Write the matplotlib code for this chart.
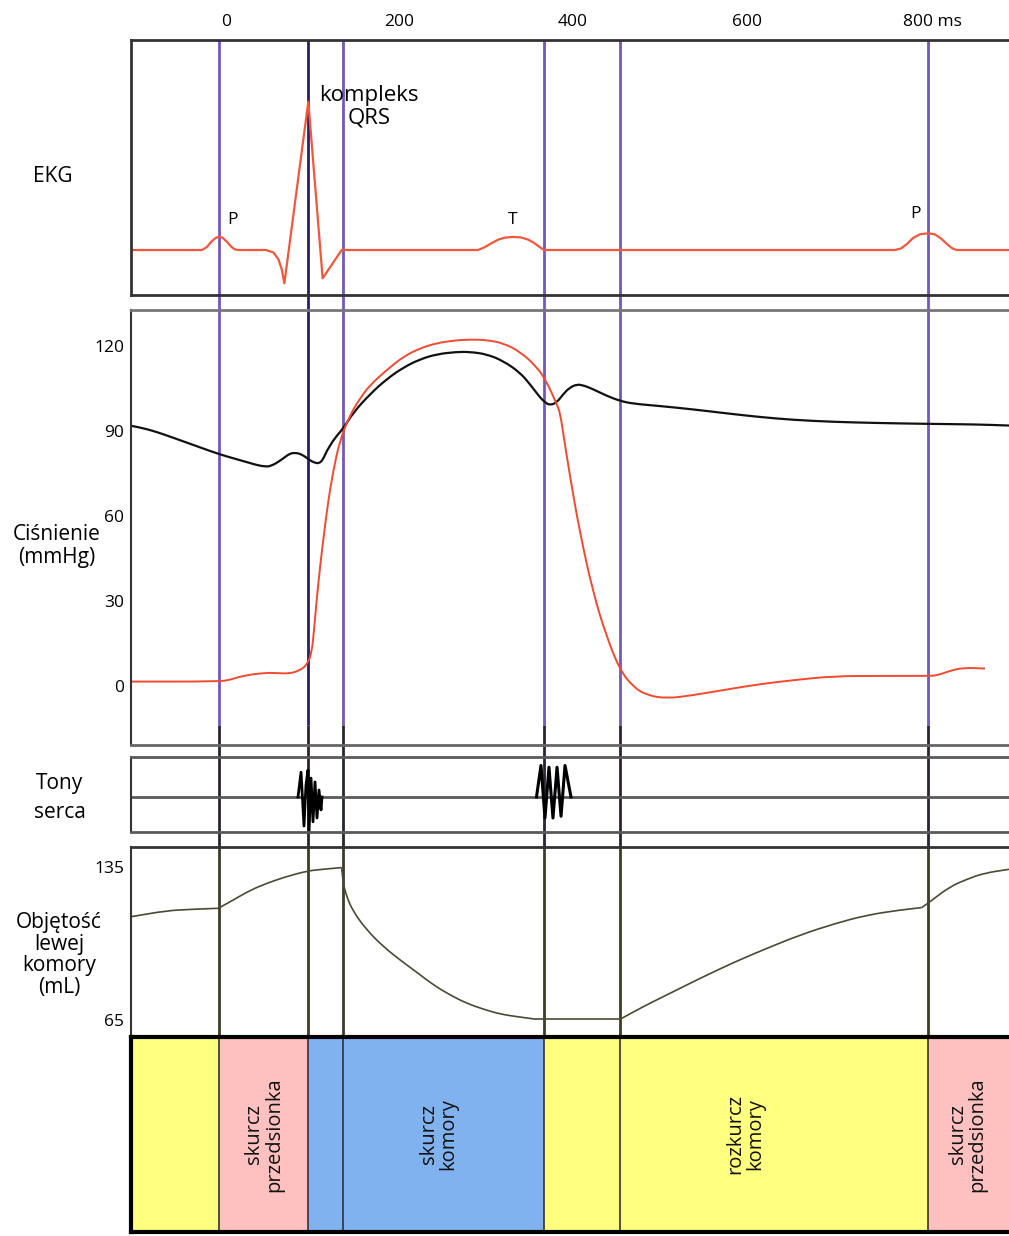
import matplotlib
matplotlib.use("Agg")
import matplotlib.pyplot as plt
from matplotlib.path import Path
from matplotlib.patches import PathPatch

plt.rcParams['font.family'] = ['Open Sans', 'DejaVu Sans']

# os czasu (ms)
time_ticks = [0, 200, 400, 600, 800]
time_labels = ['0', '200', '400', '600', '800 ms']
# pionowe linie zdarzen (ms)
event_ms = [-8, 95, 134.5, 366.5, 454, 809]

# EKG (mV)
ekg_t = [-110, -27.7, -22, -17, -12, -8, -4, 1, 6, 10, 13.8, 46, 54.5, 60.3, 64.2, 67.3,
         94.9, 111.4, 133.3, 290.5, 298, 306, 314, 322, 331, 340, 348, 355, 361, 366.6,
         771, 778, 785, 792, 800, 809, 817, 824, 831, 837, 842, 903]
ekg_mv = [0, 0, 0.02, 0.055, 0.08, 0.089, 0.082, 0.055, 0.022, 0.005, 0, 0, -0.016, -0.06, -0.127, -0.222,
          0.989, -0.189, 0, 0, 0.018, 0.045, 0.07, 0.083, 0.087, 0.084, 0.07, 0.048, 0.022, 0,
          0, 0.01, 0.04, 0.08, 0.105, 0.111, 0.105, 0.078, 0.04, 0.012, 0, 0]
ekg_notes = ['P', 'kompleks\nQRS', 'T', 'P']
ekg_note_t = [7, 165, 330, 795]
ekg_note_mv = [0.2, 0.957, 0.2, 0.24]

# cisnienie w aorcie (mmHg)
aorta_t = [-109, -90, -70, -50, -30, -8, 10, 25, 35, 45, 52, 62, 68, 73.8, 79.5, 87.2, 96.8, 102,
           107.5, 112, 116, 125.6, 134.5, 146.8, 166, 185.2, 204.4, 223.6, 242.9, 265.9, 281.3,
           300.5, 319.7, 338.9, 350.4, 362, 368, 373.5, 381.2, 388.8, 395.4, 404.3, 413, 423.4,
           438.8, 454.2, 469.5, 500.3, 538.7, 577.1, 615.5, 653.9, 700, 750, 807.7, 865.3, 902.6]
aorta_p = [91.8, 90.6, 88.6, 86.4, 84.2, 81.8, 80.2, 78.9, 78.0, 77.4, 77.6, 79.4, 80.8, 82.0, 82.3,
           81.8, 79.6, 78.8, 78.5, 80.0, 82.9, 87.6, 90.6, 96.5, 103, 108.3, 112.4, 115.3, 117.1,
           117.9, 117.9, 117.1, 114.7, 110.6, 106.5, 101.8, 100.0, 99.1, 100, 103, 105.1, 106.5,
           106.0, 104.7, 102.4, 100.6, 99.6, 98.8, 97.6, 96.2, 94.9, 93.9, 93.2, 92.8, 92.5, 92.3, 91.9]

# cisnienie w lewej komorze (mmHg)
lv_t = [-110, -8, 4.6, 20, 45, 58.4, 73.8, 85.3, 93, 98.8, 101.8, 104.5, 108.4, 113, 118, 123.8,
        131.4, 142.9, 154.5, 166, 185.2, 204.4, 223.6, 242.9, 262, 281.3, 300.5, 319.7, 338.9,
        358.1, 369.6, 381.2, 385, 388.8, 396.5, 408, 423.4, 438.8, 454.2, 469.5, 485, 508, 538.7,
        577.1, 615.5, 653.9, 700, 750, 807.7, 819.2, 834.5, 849.9, 874.9]
lv_p = [1.5, 1.5, 2.1, 3.6, 4.6, 4.5, 4.3, 5.5, 7.3, 11.4, 20.8, 30.3, 42, 53.8, 65.6, 76.2,
        86.8, 95.6, 101.5, 106.2, 111.5, 116.2, 119.2, 121, 121.9, 122.3, 122.1, 121, 118,
        112.7, 107.4, 99.5, 96.5, 89, 74, 54, 32.6, 17.3, 5.5, -0.4, -3.3, -4.5, -3.3,
        -1.3, 0.6, 2.0, 3.4, 3.5, 3.5, 3.6, 5.3, 6.4, 6.1]
p_ticks = [120, 90, 60, 30, 0]

# tony serca
s1_t = [83.0, 86.5, 89.9, 92.2, 94.5, 95.7, 98.0, 100.3, 102.6, 104.9, 107.2, 109.5, 110.7]
s1_a = [0, 0.71, -0.83, 0.34, 0.77, -1.0, 0.54, -0.71, 0.43, -0.6, 0.2, -0.37, 0]
s2_t = [357.9, 363.1, 367.7, 372.3, 376.9, 381.6, 386.2, 390.8, 397.7]
s2_a = [0, 0.9, -0.6, 0.85, -0.6, 0.85, -0.55, 0.9, 0]

# objetosc lewej komory (mL)
vol_t = [-108.7, -68.4, -41.5, -8.9, 8.4, 27.7, 46.9, 68, 93, 108.4, 133.3, 135.2, 139.1, 146.8,
         162.2, 181.3, 200.6, 219.8, 239, 258.2, 277.4, 296.6, 315.8, 335, 358, 454.2, 481, 508,
         546.4, 584.8, 623.3, 661.7, 700, 738.5, 776.9, 801.9, 811.5, 834.5, 853.8, 873, 902.6]
vol_ml = [112.2, 114.9, 115.5, 116, 119.8, 124.2, 127.4, 130.3, 133, 133.7, 134.6, 127.4, 121.3, 114.4,
          106.1, 98.5, 92.4, 86.8, 81, 76.4, 72.6, 69.9, 67.7, 66.5, 65.3, 65.3, 71.1, 76.4,
          84, 91.2, 97.7, 103.8, 108.8, 112.9, 115.2, 116.3, 119, 125.9, 129.2, 132, 133.8]
# zalamania krzywej objetosci (ms)
vol_kinks = [-8.9, 133.3, 358, 454.2, 801.9]
vol_ticks = [135, 65]

# fazy cyklu
phase_edges = [-109.5, -8, 95, 134.5, 366.5, 454, 809, 902.6]
phase_colors = ['#ffff80', '#ffc0c0', '#80b2f0', '#80b2f0', '#ffff80', '#ffff80', '#ffc0c0']
phase_labels = ['skurcz\nprzedsionka', 'skurcz\nkomory', 'rozkurcz\nkomory', 'skurcz\nprzedsionka']
phase_label_t = [43.8, 245, 598, 855]

# --- uklad (piksele obrazka) ---
W, H = 1009, 1236
zero_px, px_ms = 226, 0.8675
x_lim = ((131 - zero_px) / px_ms, (W - zero_px) / px_ms)


def box(top, bottom, left=131, right=W):
    return [left / W, 1 - bottom / H, (right - left) / W, (bottom - top) / H]


def smooth_line(ax, xs, ys, **kw):
    # gladka krzywa przez punkty (kwadratowe krzywe Beziera miedzy srodkami odcinkow)
    pts = list(zip(xs, ys))
    if len(pts) < 3:
        ax.plot(xs, ys, color=kw.get('edgecolor'), lw=kw.get('lw'))
        return
    mids = [((a[0] + b[0]) / 2, (a[1] + b[1]) / 2) for a, b in zip(pts[:-1], pts[1:])]
    verts = [pts[0], mids[0]]
    codes = [Path.MOVETO, Path.LINETO]
    for p, m in zip(pts[1:-1], mids[1:]):
        verts += [p, m]
        codes += [Path.CURVE3, Path.CURVE3]
    verts.append(pts[-1])
    codes.append(Path.LINETO)
    ax.add_patch(PathPatch(Path(verts, codes), fill=False, **kw))


fig = plt.figure(figsize=(W / 100, H / 100), dpi=100)

# linie pionowe pod wszystkimi panelami
ax_bg = fig.add_axes(box(0, H), zorder=0)
ax_bg.set_xlim(*x_lim)
ax_bg.set_ylim(H, 0)
ax_bg.axis('off')
for t in event_ms:
    top_col = '#2b1d6b' if t == 95 else '#7258bd'
    ax_bg.vlines(t, 40, 725, color=top_col, lw=2)
    ax_bg.vlines(t, 725, 847, color='#2a2430', lw=2)
    ax_bg.vlines(t, 847, 1037, color='#3c3c28', lw=2)


def panel(top, bottom):
    ax = fig.add_axes(box(top, bottom), zorder=2)
    ax.set_facecolor('none')
    ax.set_xlim(*x_lim)
    ax.set_xticks([])
    ax.spines['right'].set_visible(False)
    for s in ['top', 'bottom', 'left']:
        ax.spines[s].set_linewidth(2)
        ax.spines[s].set_color('#333333')
    ax.tick_params(axis='y', length=0, pad=5, labelsize=12.5)
    return ax


# EKG
ax_e = panel(40, 295)
ax_e.set_ylim(-0.3, 1.4)
ax_e.set_yticks([])
ax_e.plot(ekg_t, ekg_mv, color='#f0583c', lw=1.6)
for lbl, t, v in zip(ekg_notes, ekg_note_t, ekg_note_mv):
    ax_e.text(t, v, lbl, fontsize=16 if '\n' in lbl else 12.5, ha='center', va='center',
              linespacing=1.1)
for t, lbl in zip(time_ticks, time_labels):
    last = lbl.endswith('ms')
    ax_e.annotate(lbl, xy=(t, 1), xycoords=('data', 'axes fraction'),
                  xytext=(-12 if last else 0, 13), textcoords='offset points',
                  ha='left' if last else 'center', va='center', fontsize=12.5)

# cisnienie
ax_p = panel(310, 745)
ax_p.set_ylim(-20.9, 132.7)
ax_p.spines['top'].set_color('#777777')
ax_p.spines['bottom'].set_color('#666666')
ax_p.spines['left'].set_linewidth(1.5)
ax_p.set_yticks(p_ticks)
smooth_line(ax_p, aorta_t, aorta_p, edgecolor='#111111', lw=1.6)
smooth_line(ax_p, lv_t, lv_p, edgecolor='#f04a30', lw=1.4)

# tony serca
ax_s = panel(757, 832)
ax_s.set_ylim(-1.0, 1.143)
ax_s.set_yticks([])
for s in ['top', 'bottom']:
    ax_s.spines[s].set_color('#5a5a5a')
ax_s.spines['left'].set_linewidth(1.5)
ax_s.axhline(0, color='#5a5a5a', lw=2)
ax_s.plot(s1_t, s1_a, color='black', lw=2)
ax_s.plot(s2_t, s2_a, color='black', lw=2.2)

# objetosc - gladkie odcinki miedzy zalamaniami
ax_v = panel(847, 1037)
ax_v.set_ylim(57.2, 144)
ax_v.spines['bottom'].set_visible(False)
ax_v.spines['left'].set_linewidth(1.5)
ax_v.set_yticks(vol_ticks)
cuts = [0] + [vol_t.index(k) for k in vol_kinks] + [len(vol_t) - 1]
for i0, i1 in zip(cuts[:-1], cuts[1:]):
    smooth_line(ax_v, vol_t[i0:i1 + 1], vol_ml[i0:i1 + 1], edgecolor='#4a4a34', lw=1.2)

# fazy
ax_f = panel(1037, 1232)
ax_f.set_ylim(0, 1)
ax_f.set_yticks([])
for s in ['top', 'bottom', 'left']:
    ax_f.spines[s].set_linewidth(3)
    ax_f.spines[s].set_color('black')
for a, b, c in zip(phase_edges[:-1], phase_edges[1:], phase_colors):
    ax_f.axvspan(a, b, color=c, lw=0)
ax_f.vlines(phase_edges[1:-1], 0, 1, color='#333333', lw=1.2)
for lbl, t in zip(phase_labels, phase_label_t):
    ax_f.text(t, 0.5, lbl, rotation=90, ha='center', va='center', fontsize=14.5,
              linespacing=1.0, color='#111111')

# opisy z lewej
fig.text(53 / W, 1 - 176 / H, 'EKG', fontsize=15, ha='center', va='center')
fig.text(57 / W, 1 - 546 / H, 'Ciśnienie\n(mmHg)', fontsize=15, ha='center', va='center',
         linespacing=1.1)
fig.text(60 / W, 1 - 798 / H, 'Tony\nserca', fontsize=15, ha='center', va='center',
         linespacing=1.55)
fig.text(59 / W, 1 - 955 / H, 'Objętość\nlewej\nkomory\n(mL)', fontsize=15, ha='center',
         va='center', linespacing=1.05)

fig.savefig('out.png', dpi=100)
